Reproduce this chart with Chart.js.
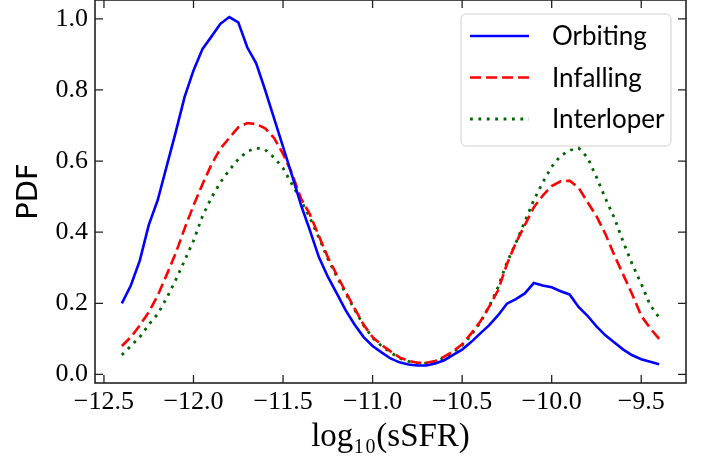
<!DOCTYPE html>
<html>
<head>
  <meta charset="utf-8" />
  <title>sSFR PDF</title>
  <script src="https://cdn.jsdelivr.net/npm/chart.js"></script>
  <style>
    html, body { margin: 0; padding: 0; background: #fff; }
    #wrap { width: 705px; height: 461px; }
  </style>
</head>
<body>
  <div id="wrap"><canvas id="pdfChart" width="705" height="461"></canvas></div>
  <script>
    // log10(sSFR) bin centres
    const logSSFR = [
      -12.40, -12.35, -12.30, -12.25, -12.20, -12.15, -12.10, -12.05, -12.00, -11.95,
      -11.90, -11.85, -11.80, -11.75, -11.70, -11.65, -11.60, -11.55, -11.50, -11.45,
      -11.40, -11.35, -11.30, -11.25, -11.20, -11.15, -11.10, -11.05, -11.00, -10.95,
      -10.90, -10.85, -10.80, -10.75, -10.70, -10.65, -10.60, -10.55, -10.50, -10.45,
      -10.40, -10.35, -10.30, -10.25, -10.20, -10.15, -10.10, -10.05, -10.00, -9.95,
      -9.90, -9.85, -9.80, -9.75, -9.70, -9.65, -9.60, -9.55, -9.50, -9.45, -9.40
    ];

    const orbiting = [
      0.200, 0.250, 0.320, 0.420, 0.490, 0.585, 0.680, 0.780, 0.855, 0.915,
      0.950, 0.986, 1.005, 0.990, 0.920, 0.875, 0.800, 0.720, 0.640, 0.560,
      0.477, 0.405, 0.330, 0.275, 0.228, 0.180, 0.140, 0.105, 0.080, 0.062,
      0.045, 0.034, 0.028, 0.025, 0.025, 0.031, 0.040, 0.055, 0.070, 0.091,
      0.115, 0.138, 0.166, 0.199, 0.212, 0.228, 0.257, 0.250, 0.245, 0.234,
      0.225, 0.190, 0.165, 0.135, 0.110, 0.090, 0.070, 0.054, 0.043, 0.036, 0.029
    ];

    const infalling = [
      0.080, 0.105, 0.138, 0.175, 0.222, 0.280, 0.340, 0.410, 0.475, 0.535,
      0.590, 0.635, 0.665, 0.695, 0.707, 0.704, 0.692, 0.665, 0.620, 0.565,
      0.495, 0.450, 0.390, 0.330, 0.280, 0.232, 0.185, 0.140, 0.105, 0.083,
      0.065, 0.048, 0.038, 0.033, 0.033, 0.038, 0.050, 0.065, 0.085, 0.115,
      0.148, 0.190, 0.236, 0.310, 0.370, 0.420, 0.470, 0.503, 0.530, 0.543,
      0.545, 0.525, 0.485, 0.445, 0.395, 0.335, 0.280, 0.225, 0.165, 0.130, 0.100
    ];

    const interloper = [
      0.055, 0.080, 0.105, 0.140, 0.170, 0.215, 0.265, 0.320, 0.376, 0.445,
      0.497, 0.540, 0.575, 0.605, 0.627, 0.637, 0.632, 0.610, 0.580, 0.535,
      0.490, 0.440, 0.385, 0.325, 0.275, 0.228, 0.182, 0.138, 0.103, 0.080,
      0.062, 0.046, 0.037, 0.032, 0.032, 0.036, 0.047, 0.062, 0.082, 0.110,
      0.145, 0.190, 0.245, 0.315, 0.370, 0.430, 0.490, 0.540, 0.584, 0.615,
      0.630, 0.637, 0.610, 0.555, 0.495, 0.440, 0.372, 0.310, 0.255, 0.195, 0.160
    ];

    const xTicks = [-12.5, -12.0, -11.5, -11.0, -10.5, -10.0, -9.5];
    const yTicks = [0.0, 0.2, 0.4, 0.6, 0.8, 1.0];

    const toPoints = ys => ys.map((y, i) => ({ x: logSSFR[i], y: y }));
    const fmt = v => v.toFixed(1).replace('-', '\u2212');

    // matplotlib-like frame: spines on all four sides, ticks pointing inward
    const framePlugin = {
      id: 'frame',
      afterDraw(chart) {
        const ctx = chart.ctx;
        const a = chart.chartArea;
        const xs = chart.scales.x, ys = chart.scales.y;
        const len = 8;
        ctx.save();
        ctx.strokeStyle = '#222';
        ctx.lineWidth = 1.6;
        ctx.strokeRect(a.left, a.top, a.right - a.left, a.bottom - a.top);
        ctx.lineWidth = 1.3;
        ctx.beginPath();
        xTicks.forEach(v => {
          const px = xs.getPixelForValue(v);
          ctx.moveTo(px, a.bottom); ctx.lineTo(px, a.bottom - len);
          ctx.moveTo(px, a.top); ctx.lineTo(px, a.top + len);
        });
        yTicks.forEach(v => {
          const py = ys.getPixelForValue(v);
          ctx.moveTo(a.left, py); ctx.lineTo(a.left + len, py);
          ctx.moveTo(a.right, py); ctx.lineTo(a.right - len, py);
        });
        ctx.stroke();
        ctx.restore();
      }
    };

    // legend box in the upper right of the axes
    const legendPlugin = {
      id: 'boxLegend',
      afterDraw(chart) {
        const ctx = chart.ctx;
        const bx = 461, by = 14, bw = 210, bh = 132, r = 5;
        ctx.save();
        ctx.beginPath();
        ctx.moveTo(bx + r, by);
        ctx.arcTo(bx + bw, by, bx + bw, by + bh, r);
        ctx.arcTo(bx + bw, by + bh, bx, by + bh, r);
        ctx.arcTo(bx, by + bh, bx, by, r);
        ctx.arcTo(bx, by, bx + bw, by, r);
        ctx.closePath();
        ctx.fillStyle = 'rgba(255,255,255,0.8)';
        ctx.fill();
        ctx.strokeStyle = '#d0d0d0';
        ctx.lineWidth = 1;
        ctx.stroke();

        ctx.font = '26px Lato';
        ctx.textBaseline = 'middle';
        ctx.textAlign = 'left';
        chart.data.datasets.forEach((ds, i) => {
          const y = 36 + i * 41.5;
          ctx.beginPath();
          ctx.strokeStyle = ds.borderColor;
          ctx.lineWidth = ds.borderWidth;
          ctx.setLineDash(ds.borderDash || []);
          ctx.moveTo(470, y);
          ctx.lineTo(529, y);
          ctx.stroke();
          ctx.setLineDash([]);
          ctx.fillStyle = '#000';
          ctx.fillText(ds.label, 552, y + 1);
        });
        ctx.restore();
      }
    };

    const chart = new Chart(document.getElementById('pdfChart'), {
      type: 'line',
      data: {
        datasets: [
          { label: 'Orbiting', data: toPoints(orbiting), borderColor: '#0000ff', borderWidth: 2.6, borderDash: [] },
          { label: 'Infalling', data: toPoints(infalling), borderColor: '#ff0000', borderWidth: 2.6, borderDash: [11, 5] },
          { label: 'Interloper', data: toPoints(interloper), borderColor: '#006400', borderWidth: 2.8, borderDash: [2.8, 5.6] }
        ]
      },
      options: {
        responsive: false,
        animation: false,
        devicePixelRatio: 1,
        layout: { padding: { left: 0, right: 19, top: 0, bottom: 0 } },
        elements: { point: { radius: 0 }, line: { tension: 0, borderCapStyle: 'butt' } },
        plugins: { legend: { display: false }, tooltip: { enabled: false } },
        scales: {
          x: {
            type: 'linear',
            min: -12.55,
            max: -9.25,
            afterBuildTicks: s => { s.ticks = xTicks.map(v => ({ value: v })); },
            afterFit: s => { s.height = 78; s.paddingLeft = 0; s.paddingRight = 0; },
            grid: { display: false, drawTicks: false },
            border: { display: false },
            ticks: {
              padding: 4,
              color: '#000',
              font: { family: 'Liberation Serif', size: 26 },
              callback: v => fmt(v)
            },
            title: {
              display: true,
              text: 'log\u2081\u2080(sSFR)',
              color: '#000',
              font: { family: 'Liberation Serif', size: 33, lineHeight: 1 },
              padding: { top: 0, bottom: 7 }
            }
          },
          y: {
            min: -0.024,
            max: 1.053,
            afterBuildTicks: s => { s.ticks = yTicks.map(v => ({ value: v })); },
            afterFit: s => { s.width = 95; s.paddingTop = 0; s.paddingBottom = 0; },
            grid: { display: false, drawTicks: false },
            border: { display: false },
            ticks: {
              padding: 7,
              color: '#000',
              font: { family: 'Liberation Serif', size: 26 },
              callback: v => fmt(v)
            },
            title: {
              display: true,
              text: 'PDF',
              color: '#000',
              font: { family: 'DejaVu Sans', size: 29, lineHeight: 1 },
              padding: { top: 15, bottom: 0 }
            }
          }
        }
      },
      plugins: [framePlugin, legendPlugin]
    });
  </script>
</body>
</html>
